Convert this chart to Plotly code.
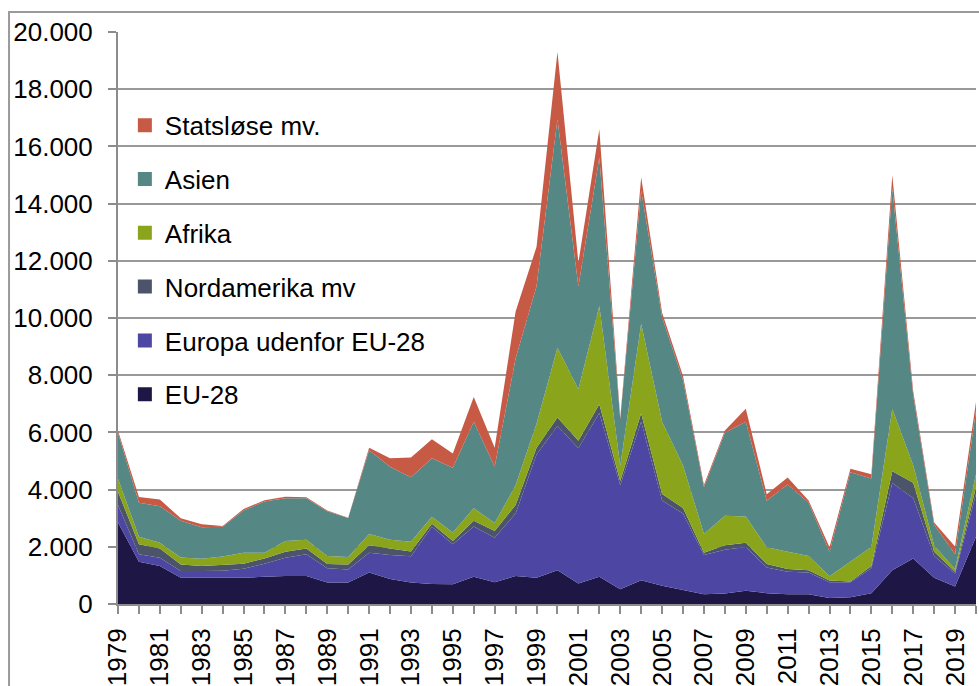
import plotly.graph_objects as go

years = list(range(1979, 2021))

eu28 = [2850, 1480, 1330, 920, 920, 920, 920, 950, 980, 980, 750, 750, 1100, 870, 750, 700, 690, 950, 760, 980,
        920, 1180, 720, 950, 520, 830, 640, 490, 340, 370, 460, 380, 340, 340, 210, 240, 380, 1180, 1590, 920, 610, 2350]
europa = [610, 260, 290, 230, 230, 240, 310, 460, 640, 760, 500, 460, 690, 840, 920, 2000, 1400, 1760, 1560, 2180,
          4310, 5040, 4730, 5730, 3630, 5540, 2980, 2670, 1370, 1530, 1530, 900, 790, 760, 550, 520, 870, 3050, 2110, 760, 460, 1500]
nordam = [460, 350, 320, 230, 180, 200, 180, 180, 210, 200, 150, 170, 260, 230, 170, 110, 110, 200, 230, 300,
          230, 300, 260, 300, 150, 300, 230, 200, 80, 150, 150, 120, 90, 80, 60, 30, 80, 410, 540, 150, 60, 230]
afrika = [460, 260, 200, 250, 250, 300, 380, 200, 370, 310, 280, 260, 400, 310, 340, 240, 300, 440, 280, 690,
          840, 2440, 1800, 3440, 530, 3130, 2520, 1480, 660, 1040, 920, 580, 610, 500, 150, 690, 660, 2180, 610, 210, 90, 460]
asien = [1600, 1190, 1280, 1280, 1100, 1040, 1480, 1790, 1500, 1450, 1560, 1370, 2930, 2550, 2250, 2050, 2260, 3020, 1970, 4430,
         4810, 7990, 3590, 5190, 1630, 4660, 3660, 2980, 1630, 2900, 3310, 1630, 2350, 1860, 860, 3130, 2400, 7710, 2440, 730, 520, 2210]
statslose = [80, 200, 230, 90, 110, 30, 50, 50, 50, 30, 30, 10, 80, 300, 690, 660, 500, 870, 660, 1650,
             1380, 2350, 840, 990, 50, 460, 150, 150, 80, 80, 460, 230, 240, 80, 150, 120, 150, 460, 150, 80, 270, 310]

series_names = ["EU-28", "Europa udenfor EU-28", "Nordamerika mv", "Afrika", "Asien", "Statsløse mv."]
series_values = [eu28, europa, nordam, afrika, asien, statslose]
series_colors = ["#1E1746", "#4D47A3", "#4B5468", "#8AA51B", "#558785", "#C65A45"]

tick_text = [str(y) if (y - 1979) % 2 == 0 else "" for y in years]

FONT = "Liberation Sans, Arial, sans-serif"

fig = go.Figure()
for name, vals, col in zip(series_names, series_values, series_colors):
    fig.add_trace(go.Scatter(
        x=years, y=vals, name=name, mode="lines", stackgroup="one",
        line=dict(width=0, color=col), fillcolor=col, showlegend=False,
        hoverinfo="x+y+name",
    ))

# legend entries as square markers (top entry = last series)
for name, col in reversed(list(zip(series_names, series_colors))):
    fig.add_trace(go.Scatter(
        x=[None], y=[None], name=name, mode="markers",
        marker=dict(symbol="square", size=14, color=col),
        legendgroup=name, showlegend=True,
    ))

fig.update_layout(
    width=979, height=686,
    margin=dict(l=118, r=3, t=32, b=82),
    paper_bgcolor="white", plot_bgcolor="white",
    separators=",.",
    font=dict(family=FONT, size=26, color="black"),
    showlegend=True,
    legend=dict(
        x=0.008, y=0.878, xanchor="left", yanchor="top",
        bgcolor="rgba(0,0,0,0)", borderwidth=0,
        traceorder="grouped", tracegroupgap=17,
        font=dict(family=FONT, size=26, color="black"),
    ),
    xaxis=dict(
        range=[1979, 2020], tickmode="array", tickvals=years, ticktext=tick_text,
        tickangle=-90, ticks="outside", ticklen=8, tickcolor="#8c8c8c", tickwidth=2,
        showline=True, linecolor="#8c8c8c", linewidth=2, showgrid=False, zeroline=False,
        tickfont=dict(family=FONT, size=26, color="black"),
        ticklabelstandoff=4, automargin=False,
    ),
    yaxis=dict(
        range=[0, 20000], dtick=2000, tickformat=",d",
        ticks="outside", ticklen=8, tickcolor="#8c8c8c", tickwidth=2,
        showline=True, linecolor="#8c8c8c", linewidth=2,
        showgrid=True, gridcolor="#999999", gridwidth=2, zeroline=False,
        tickfont=dict(family=FONT, size=26, color="black"),
        ticklabelstandoff=10, automargin=False,
    ),
    shapes=[dict(type="rect", xref="paper", yref="paper",
                 x0=-0.127, x1=1.3, y0=-0.6, y1=1.035,
                 line=dict(color="#9a9a9a", width=2), layer="above")],
)

fig.write_html("out.html", config={"displayModeBar": False},
               post_script="document.body.style.margin='0px';")
